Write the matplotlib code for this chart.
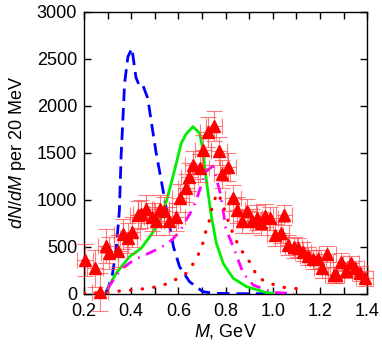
"""Dimuon-like mass spectrum: data points with model curves."""

import matplotlib.pyplot as plt
from matplotlib.ticker import MultipleLocator

plt.rcParams["font.family"] = ["Liberation Sans", "DejaVu Sans"]
plt.rcParams["mathtext.fontset"] = "custom"
plt.rcParams["mathtext.it"] = "Liberation Sans:italic"
plt.rcParams["mathtext.rm"] = "Liberation Sans"

# measured points (GeV, counts per 20 MeV)
data_m = [0.205, 0.247, 0.268, 0.293, 0.307, 0.346, 0.364, 0.388, 0.402, 0.428,
          0.442, 0.463, 0.489, 0.503, 0.524, 0.537, 0.562, 0.591, 0.608, 0.633,
          0.647, 0.664, 0.693, 0.704, 0.726, 0.751, 0.772, 0.785, 0.811, 0.832,
          0.849, 0.868, 0.892, 0.910, 0.932, 0.950, 0.967, 0.988, 1.009, 1.035,
          1.048, 1.066, 1.088, 1.109, 1.128, 1.149, 1.170, 1.191, 1.208, 1.232,
          1.258, 1.269, 1.289, 1.310, 1.332, 1.350, 1.369, 1.390]
data_n = [360, 270, 21, 510, 430, 457, 635, 590, 660, 837,
          845, 898, 820, 777, 898, 880, 773, 820, 1015, 1121,
          1245, 1369, 1334, 1529, 1723, 1784, 1521, 1273, 1351, 1021,
          890, 773, 880, 773, 809, 749, 830, 802, 624, 649,
          837, 518, 493, 489, 447, 401, 366, 366, 270, 422,
          199, 199, 340, 245, 323, 270, 217, 164]
data_err = [170, 200, 200, 180, 170, 170, 160, 160, 160, 150,
            150, 150, 150, 150, 150, 150, 150, 150, 150, 150,
            150, 150, 150, 160, 160, 160, 150, 150, 150, 140,
            140, 130, 130, 130, 130, 120, 120, 120, 120, 110,
            110, 110, 110, 100, 100, 100, 100, 100, 100, 90,
            90, 90, 90, 80, 80, 80, 80, 80]
data_xerr = 0.035

# blue dashed model
blue_m = [0.29, 0.304, 0.321, 0.336, 0.35, 0.357, 0.362, 0.372, 0.386, 0.403,
          0.42, 0.435, 0.449, 0.47, 0.49, 0.506, 0.527, 0.555, 0.579, 0.605,
          0.647, 0.704, 0.75, 0.85, 0.95, 1.06]
blue_n = [0, 75, 217, 465, 890, 1457, 1710, 2240, 2520, 2610,
          2300, 2210, 2220, 2080, 1750, 1494, 1210, 820, 500, 287,
          128, 21, 5, 0, 0, 0]

# green solid model
green_m = [0.30, 0.336, 0.393, 0.442, 0.484, 0.52, 0.551, 0.584, 0.605, 0.612,
           0.633, 0.662, 0.69, 0.707, 0.711, 0.726, 0.74, 0.761, 0.79, 0.832,
           0.889, 0.974, 1.0]
green_n = [57, 217, 394, 483, 624, 766, 997, 1316, 1529, 1600,
           1700, 1777, 1706, 1494, 1351, 1068, 820, 536, 323, 164,
           75, 11, 5]

# magenta dash-dot model
magenta_m = [0.30, 0.31, 0.353, 0.41, 0.459, 0.527, 0.572, 0.605, 0.633, 0.662,
             0.683, 0.716, 0.747, 0.776, 0.787, 0.801, 0.832, 0.875, 0.917, 1.0,
             1.09]
magenta_n = [47, 92, 252, 358, 412, 493, 571, 660, 784, 908,
             1050, 1298, 1358, 1085, 925, 696, 500, 217, 92, 15,
             0]

# red dotted model
red_m = [0.20, 0.30, 0.364, 0.407, 0.445, 0.485, 0.523, 0.562, 0.598, 0.633,
         0.655, 0.676, 0.698, 0.716, 0.729, 0.747, 0.765, 0.783, 0.807, 0.835,
         0.86, 0.885, 0.91, 0.932, 0.968, 1.01, 1.046, 1.088, 1.10]
red_n = [5, 15, 32, 39, 50, 64, 82, 115, 164, 217,
         287, 376, 483, 660, 755, 960, 1070, 990, 802, 614,
         489, 394, 312, 188, 128, 92, 68, 57, 55]


def main() -> None:
    fig = plt.figure(figsize=(3.82, 3.47), dpi=100)
    ax = fig.add_axes([0.22, 0.1536, 0.741, 0.8128])

    ax.plot(blue_m, blue_n, color="#0000ff", lw=2.0, ls=(0, (4.5, 2.5)), zorder=3)
    ax.plot(green_m, green_n, color="#00ee00", lw=2.0, zorder=3)
    ax.plot(magenta_m, magenta_n, color="#ff00ff", lw=2.0,
            ls=(0, (4.0, 2.5, 0.6, 2.5)), zorder=3)
    ax.plot(red_m, red_n, color="#ff0000", lw=2.4, ls=(0, (0.1, 3.4)),
            dash_capstyle="round", zorder=3)

    ax.errorbar(data_m, data_n, yerr=data_err, xerr=data_xerr, fmt="none",
                ecolor="#ff4848", elinewidth=0.8, capsize=6, capthick=0.8,
                alpha=0.7, clip_on=False, zorder=4)
    ax.plot(data_m, data_n, ls="none", marker="^", color="#ff0000",
            markersize=8, clip_on=False, zorder=5)

    ax.set_xlim(0.2, 1.4)
    ax.set_ylim(0, 3000)
    ax.xaxis.set_major_locator(MultipleLocator(0.2))
    ax.xaxis.set_minor_locator(MultipleLocator(0.1))
    ax.yaxis.set_major_locator(MultipleLocator(500))
    ax.set_xticklabels([f"{v:.1f}" for v in ax.get_xticks()])
    ax.tick_params(which="both", direction="in", top=True, right=True,
                   labelsize=13, width=1.0)
    ax.tick_params(which="major", length=5)
    ax.tick_params(which="minor", length=5)
    ax.tick_params(axis="x", which="major", pad=7)
    ax.tick_params(axis="y", which="major", pad=5)
    for spine in ax.spines.values():
        spine.set_linewidth(1.0)

    ax.set_xlabel(r"$M$, GeV", fontsize=13, labelpad=1)
    ax.set_ylabel(r"$dN/dM$ per 20 MeV", fontsize=13, labelpad=6)

    fig.savefig("out.png", dpi=100)
    plt.close(fig)


if __name__ == "__main__":
    main()
